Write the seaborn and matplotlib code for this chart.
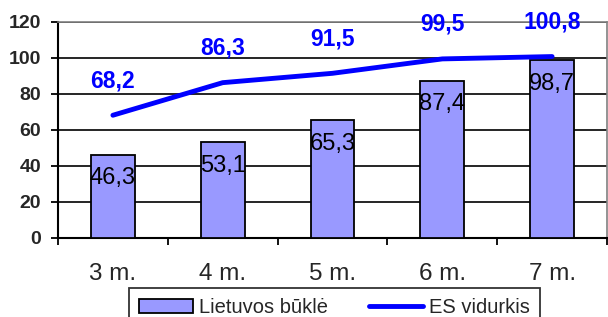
import matplotlib
matplotlib.use("Agg")
import matplotlib.pyplot as plt
from matplotlib.ticker import FixedLocator
import seaborn as sns

# chart data
months = ["3 m.", "4 m.", "5 m.", "6 m.", "7 m."]
lt_values = [46.3, 53.1, 65.3, 87.4, 98.7]
es_values = [68.2, 86.3, 91.5, 99.5, 100.8]
lt_labels = ["46,3", "53,1", "65,3", "87,4", "98,7"]
es_labels = ["68,2", "86,3", "91,5", "99,5", "100,8"]

sns.set_style("white")
plt.rcParams["font.family"] = ["Liberation Sans", "DejaVu Sans"]

fig = plt.figure(figsize=(6.08, 3.17), dpi=100)
ax = fig.add_axes([58 / 608, 1 - 238 / 317, 549 / 608, 216 / 317])

sns.barplot(x=months, y=lt_values, color="#9999FF", saturation=1, width=0.4,
            edgecolor="black", linewidth=1.3, ax=ax, zorder=3,
            label="Lietuvos būklė")
sns.pointplot(x=months, y=es_values, color="#0000FF", markers="", linewidth=3.5,
              ax=ax, label="ES vidurkis")
for ln in ax.lines:
    ln.set_zorder(4)
    ln.set_solid_capstyle("round")

# value labels
for i, (v, t) in enumerate(zip(lt_values, lt_labels)):
    ax.annotate(t, (i, v), xytext=(0, -17), textcoords="offset points",
                ha="center", va="center", fontsize=17, color="black", zorder=5)
for i, (v, t) in enumerate(zip(es_values, es_labels)):
    ax.annotate(t, (i, v), xytext=(0, 25), textcoords="offset points",
                ha="center", va="center", fontsize=16.5, fontweight="bold",
                color="#0000FF", zorder=5, annotation_clip=False)

ax.set_xlim(-0.5, 4.5)
ax.set_ylim(0, 120)
ax.set_yticks(range(0, 121, 20))
ax.yaxis.grid(True, color="black", linewidth=1.2)
ax.set_axisbelow(True)

for s in ["top", "right"]:
    ax.spines[s].set_color("#808080")
    ax.spines[s].set_linewidth(1.2)
for s in ["left", "bottom"]:
    ax.spines[s].set_color("black")
    ax.spines[s].set_linewidth(1.5)

ax.tick_params(axis="y", which="major", direction="out", length=5, width=1.3,
               color="black", pad=7, labelsize=14, left=True)
for lab in ax.get_yticklabels():
    lab.set_fontweight("bold")
ax.tick_params(axis="x", which="major", length=0, pad=18, labelsize=17.5)
ax.xaxis.set_minor_locator(FixedLocator([-0.5, 0.5, 1.5, 2.5, 3.5, 4.5]))
ax.tick_params(axis="x", which="minor", direction="out", length=5, width=1.3,
               color="black", bottom=True)
ax.set_xlabel("")
ax.set_ylabel("")

if ax.get_legend() is not None:
    ax.get_legend().remove()
handles, labels = ax.get_legend_handles_labels()
order = [labels.index("Lietuvos būklė"), labels.index("ES vidurkis")]
handles = [handles[k] for k in order]
labels = [labels[k] for k in order]
leg = fig.legend(handles, labels, loc="upper center", bbox_to_anchor=(334.5 / 608, 1 - 288 / 317),
                 ncol=2, fontsize=14.5, frameon=True, fancybox=False, shadow=False,
                 handlelength=2.7, handletextpad=0.3, columnspacing=2.0,
                 borderpad=0.5, borderaxespad=0)
leg.get_frame().set_edgecolor("black")
leg.get_frame().set_linewidth(1.3)

fig.savefig("out.png", dpi=100)
